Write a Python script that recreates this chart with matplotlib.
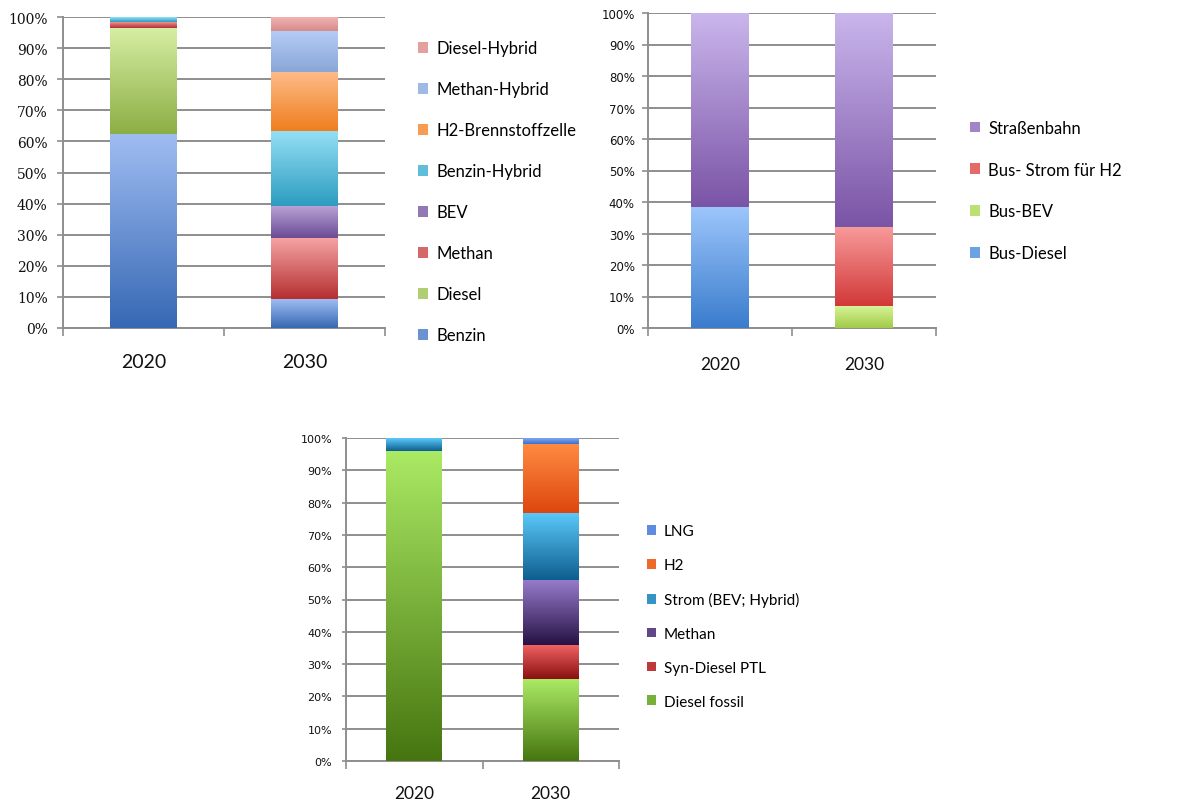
import numpy as np
import matplotlib
matplotlib.use("Agg")
import matplotlib.pyplot as plt
from matplotlib.colors import LinearSegmentedColormap
from matplotlib.patches import Patch
from matplotlib.ticker import PercentFormatter, FixedLocator

# Daten (Anteile in %)
jahre = ["2020", "2030"]

# PKW
pkw_namen = ["Benzin", "Diesel", "Methan", "BEV", "Benzin-Hybrid",
             "H2-Brennstoffzelle", "Methan-Hybrid", "Diesel-Hybrid"]
pkw_werte = {
    "Benzin":             [62.5, 9.3],
    "Diesel":             [33.9, 0.0],
    "Methan":             [2.1, 19.5],
    "BEV":                [0.0, 10.5],
    "Benzin-Hybrid":      [1.5, 24.2],
    "H2-Brennstoffzelle": [0.0, 18.7],
    "Methan-Hybrid":      [0.0, 13.4],
    "Diesel-Hybrid":      [0.0, 4.4],
}
pkw_farben = {
    "Benzin":             ("#a0bdf3", "#3668b3"),
    "Diesel":             ("#d6eea3", "#8bae44"),
    "Methan":             ("#f5a3a3", "#b52f30"),
    "BEV":                ("#bba4d6", "#6b4b95"),
    "Benzin-Hybrid":      ("#96e0f6", "#2c9cbf"),
    "H2-Brennstoffzelle": ("#fdbb87", "#ef7f1e"),
    "Methan-Hybrid":      ("#b6cef6", "#88a6d6"),
    "Diesel-Hybrid":      ("#f3b3b3", "#d68a8a"),
}

# OEPNV
oepnv_namen = ["Bus-Diesel", "Bus-BEV", "Bus- Strom für H2", "Straßenbahn"]
oepnv_werte = {
    "Bus-Diesel":        [38.5, 0.0],
    "Bus-BEV":           [0.0, 7.0],
    "Bus- Strom für H2": [0.0, 25.0],
    "Straßenbahn":       [61.5, 68.0],
}
oepnv_farben = {
    "Bus-Diesel":        ("#9dc6fb", "#3a7ccd"),
    "Bus-BEV":           ("#d8f69c", "#a2ca47"),
    "Bus- Strom für H2": ("#f89a9a", "#d23838"),
    "Straßenbahn":       ("#cab6ec", "#7a54a6"),
}

# LKW
lkw_namen = ["Diesel fossil", "Syn-Diesel PTL", "Methan", "Strom (BEV; Hybrid)", "H2", "LNG"]
lkw_werte = {
    "Diesel fossil":       [96.0, 25.3],
    "Syn-Diesel PTL":     [0.0, 10.7],
    "Methan":              [0.0, 20.0],
    "Strom (BEV; Hybrid)": [4.0, 20.8],
    "H2":                  [0.0, 21.4],
    "LNG":                 [0.0, 1.8],
}
lkw_farben = {
    "Diesel fossil":       ("#abea64", "#467510"),
    "Syn-Diesel PTL":      ("#f26464", "#8a1010"),
    "Methan":              ("#977bcb", "#261244"),
    "Strom (BEV; Hybrid)": ("#5bcafb", "#0d5e8e"),
    "H2":                  ("#ff8c42", "#de460e"),
    "LNG":                 ("#80a7f2", "#3e6ecf"),
}

GRID = "#8e8e8e"
FIG_W, FIG_H = 1184, 803


def mischfarbe(c1, c2):
    a = np.array(matplotlib.colors.to_rgb(c1))
    b = np.array(matplotlib.colors.to_rgb(c2))
    return tuple((a + b) / 2)


def gestapelt(ax, namen, werte, farben, breite):
    x = np.arange(len(jahre))
    boden = np.zeros(len(jahre))
    grad = np.linspace(0, 1, 256).reshape(-1, 1)
    for n in namen:
        h = np.array(werte[n])
        bars = ax.bar(x, h, breite, bottom=boden, color="none", linewidth=0, zorder=3)
        oben, unten = farben[n]
        cmap = LinearSegmentedColormap.from_list(n, [unten, oben])
        for b in bars:
            if b.get_height() <= 0:
                continue
            x0, y0 = b.get_xy()
            im = ax.imshow(grad, cmap=cmap, origin="lower", aspect="auto",
                           extent=(x0, x0 + b.get_width(), y0, y0 + b.get_height()),
                           zorder=3, interpolation="bilinear")
            im.set_clip_path(b)
        boden += h


def achsen_stil(ax, tick_font, tick_size, tick_len, tick_pad, xlabel_size, xpad):
    ax.set_xlim(-0.5, 1.5)
    ax.set_ylim(0, 100)
    ax.set_yticks(np.arange(0, 101, 10))
    ax.yaxis.set_major_formatter(PercentFormatter(decimals=0))
    ax.set_xticks(np.arange(len(jahre)))
    ax.set_xticklabels(jahre, fontsize=xlabel_size, family="Lato", color="#111111")
    ax.xaxis.set_minor_locator(FixedLocator([-0.5, 0.5, 1.5]))
    ax.tick_params(axis="x", which="major", length=0, pad=xpad)
    ax.tick_params(axis="x", which="minor", length=6, width=1.2, color=GRID, direction="out")
    ax.tick_params(axis="y", length=tick_len, width=1.2, color=GRID, direction="out",
                   labelsize=tick_size, labelcolor="#111111", pad=tick_pad)
    for lab in ax.get_yticklabels():
        lab.set_family(tick_font)
    ax.grid(axis="y", color=GRID, linewidth=1.4, zorder=0)
    ax.set_axisbelow(True)
    for s in ["top", "right"]:
        ax.spines[s].set_visible(False)
    for s in ["left", "bottom"]:
        ax.spines[s].set_color(GRID)
        ax.spines[s].set_linewidth(1.4)


def legende(fig, namen, farben, x, y, size, spacing):
    handles = [Patch(facecolor=mischfarbe(*farben[n]), edgecolor="none", label=n)
               for n in reversed(namen)]
    fig.legend(handles=handles, loc="center left", bbox_to_anchor=(x / FIG_W, 1 - y / FIG_H),
               frameon=False, borderpad=0, borderaxespad=0, handlelength=0.6,
               handleheight=0.6, handletextpad=0.5, labelspacing=spacing,
               prop={"family": "Lato", "size": size})


def rechteck(l, t, r, b):
    return [l / FIG_W, 1 - b / FIG_H, (r - l) / FIG_W, (b - t) / FIG_H]


fig = plt.figure(figsize=(FIG_W / 100, FIG_H / 100), dpi=100)

# PKW oben links
ax1 = fig.add_axes(rechteck(63, 18, 385, 329))
gestapelt(ax1, pkw_namen, pkw_werte, pkw_farben, 0.41)
achsen_stil(ax1, "DejaVu Serif", 10, 4, 7, 14, 18)
legende(fig, pkw_namen, pkw_farben, 418, 193, 12, 1.5)

# OEPNV oben rechts
ax2 = fig.add_axes(rechteck(648, 14, 936, 329))
gestapelt(ax2, oepnv_namen, oepnv_werte, oepnv_farben, 0.40)
achsen_stil(ax2, "DejaVu Sans", 8.5, 4.5, 5, 12.5, 20)
legende(fig, oepnv_namen, oepnv_farben, 970, 191.5, 12, 1.55)

# LKW unten
ax3 = fig.add_axes(rechteck(346, 439, 619, 762))
gestapelt(ax3, lkw_namen, lkw_werte, lkw_farben, 0.41)
achsen_stil(ax3, "DejaVu Sans", 8, 3, 7, 12.5, 17.5)
legende(fig, lkw_namen, lkw_farben, 647, 617.5, 11, 1.3)

fig.savefig("out.png", dpi=100)
